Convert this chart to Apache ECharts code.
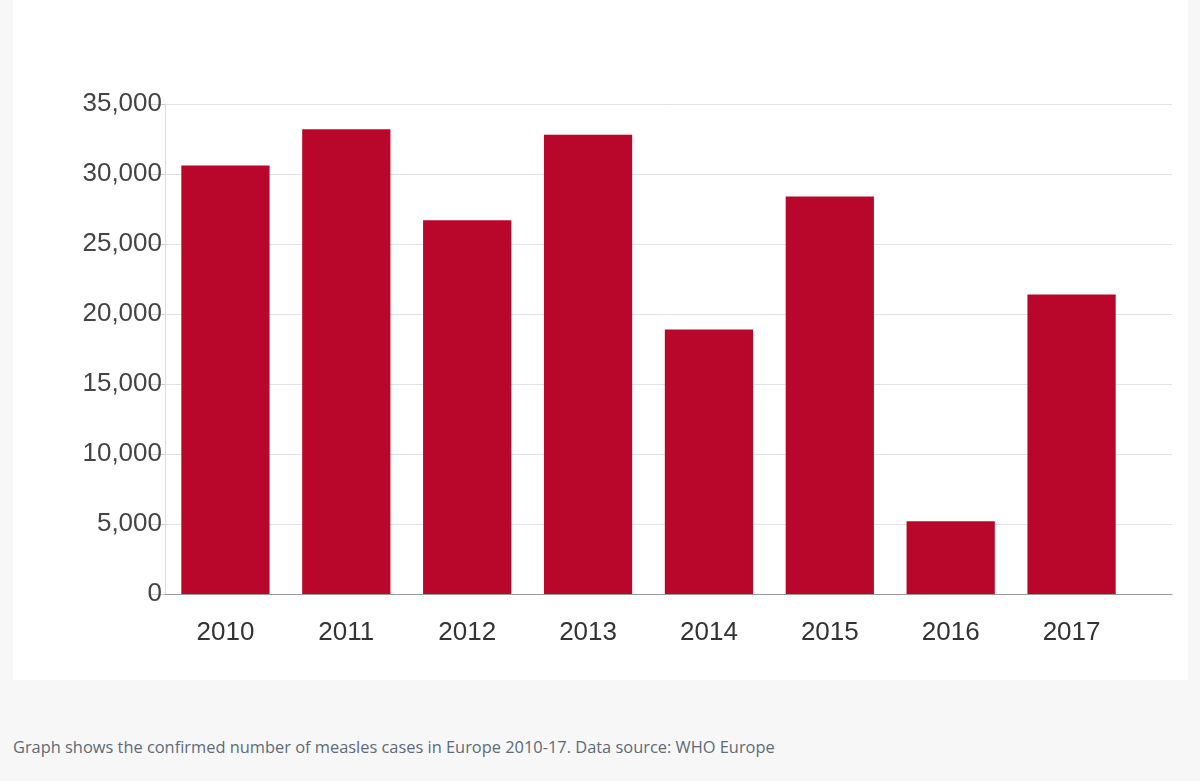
<!DOCTYPE html>
<html><head><meta charset="utf-8">
<script src="https://cdn.jsdelivr.net/npm/echarts@6/dist/echarts.min.js"></script>
<style>
body{margin:0;background:#f7f7f7;width:1200px;height:781px;position:relative;overflow:hidden}
#panel{position:absolute;left:13px;top:0;width:1175px;height:680px;background:#fff}
#chart{position:absolute;left:0;top:0;width:1200px;height:680px}
#cap{position:absolute;left:13px;top:735px;font-family:'Open Sans',sans-serif;font-size:16.4px;color:#5d6b78}
</style></head>
<body>
<div id="panel"></div>
<div id="chart"></div>
<div id="cap">Graph shows the confirmed number of measles cases in Europe 2010-17. Data source: WHO Europe</div>
<script>
const years = ['2010','2011','2012','2013','2014','2015','2016','2017'];
const cases = [30600, 33200, 26700, 32800, 18900, 28400, 5200, 21400];

const chart = echarts.init(document.getElementById('chart'));
chart.setOption({
  animation: false,
  grid: [
    {left: 165, right: 68, top: 104, bottom: 86},
    {left: 165, right: 28, top: 104, bottom: 86}
  ],
  xAxis: [{
    type: 'category', data: years, gridIndex: 0,
    axisLine: {lineStyle: {color: '#999'}},
    axisTick: {show: false},
    axisLabel: {fontSize: 26, color: '#333', fontFamily: 'Liberation Sans, Arial', margin: 26}
  }, {
    type: 'value', gridIndex: 1, show: true,
    axisLine: {show: true, lineStyle: {color: '#999'}},
    axisTick: {show: false}, axisLabel: {show: false}, splitLine: {show: false}
  }],
  yAxis: [{
    type: 'value', min: 0, max: 35000, interval: 5000, gridIndex: 0,
    axisLine: {show: true, lineStyle: {color: '#ddd'}},
    axisTick: {show: true, length: 15, lineStyle: {color: '#ccc'}},
    splitLine: {show: false},
    axisLabel: {fontSize: 26, color: '#444', fontFamily: 'Liberation Sans, Arial', margin: 3,
      formatter: v => v.toLocaleString('en-US')}
  }, {
    type: 'value', min: 0, max: 35000, interval: 5000, gridIndex: 1,
    axisLine: {show: false}, axisTick: {show: false}, axisLabel: {show: false},
    splitLine: {lineStyle: {color: '#e2e2e2'}}
  }],
  series: [{
    type: 'bar', data: cases, barWidth: '73%', xAxisIndex: 0, yAxisIndex: 0, z: 3,
    itemStyle: {color: '#b8072a'}
  }]
});
</script>
</body></html>
